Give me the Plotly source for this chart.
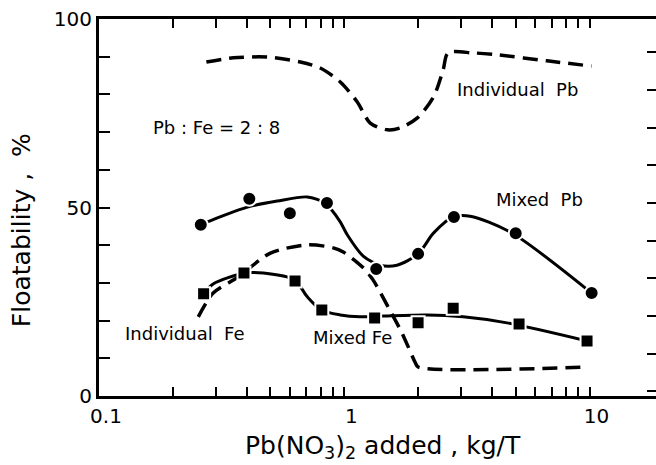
import plotly.graph_objects as go

# ---- data ----
# Mixed Pb: measured points (circles) and drawn fit curve
mixed_pb_x = [0.26, 0.41, 0.60, 0.85, 1.35, 2.0, 2.8, 5.0, 10.2]
mixed_pb_y = [45.4, 52.3, 48.5, 51.2, 33.7, 37.7, 47.5, 43.2, 27.3]
mixed_pb_curve_x = [0.262, 0.277, 0.403, 0.533, 0.707, 0.837, 0.877, 0.963, 1.03,
                    1.195, 1.40, 1.64, 2.0, 2.31, 2.78, 3.26, 4.75, 10.2]
mixed_pb_curve_y = [45.4, 46.2, 50.1, 51.7, 52.8, 51.2, 49.8, 46.2, 42.7,
                    37.1, 34.7, 34.7, 37.7, 43.2, 47.5, 47.7, 43.5, 27.3]

# Mixed Fe: measured points (squares) and drawn fit curve
mixed_fe_x = [0.267, 0.39, 0.63, 0.81, 1.33, 2.0, 2.78, 5.16, 9.77]
mixed_fe_y = [27.1, 32.6, 30.5, 22.8, 20.7, 19.4, 23.3, 19.1, 14.6]
mixed_fe_curve_x = [0.267, 0.292, 0.392, 0.468, 0.626, 0.707, 0.806, 0.963, 1.16,
                    1.44, 2.18, 3.05, 4.61, 9.77]
mixed_fe_curve_y = [27.1, 29.7, 32.6, 32.6, 30.8, 26.3, 22.8, 21.5, 21.0,
                    21.2, 21.5, 21.0, 19.4, 14.6]

# Individual Pb (dashed curve)
ind_pb_x = [0.274, 0.353, 0.486, 0.662, 0.798, 0.963, 1.13, 1.276, 1.50, 1.69,
            1.98, 2.31, 2.53, 2.65, 3.35, 4.20, 6.71, 10.2]
ind_pb_y = [88.6, 89.7, 89.9, 88.6, 87.0, 83.3, 78.0, 72.4, 70.6, 71.1,
            73.7, 79.3, 86.5, 91.0, 91.0, 90.5, 88.9, 87.5]

# Individual Fe (dashed curve)
ind_fe_x = [0.254, 0.292, 0.370, 0.500, 0.707, 0.902, 0.991, 1.195, 1.31, 1.51,
            1.72, 1.95, 2.0, 9.86]
ind_fe_y = [21.0, 27.3, 31.6, 37.9, 40.1, 39.3, 38.2, 34.0, 30.8, 23.6,
            16.7, 8.8, 7.7, 7.7]

# axis ticks
x_tick_vals = [0.1, 0.2, 0.3, 0.4, 0.5, 0.6, 0.7, 0.8, 0.9,
               1, 2, 3, 4, 5, 6, 7, 8, 9, 10]
x_tick_text = ["0.1", "", "", "", "", "", "", "", "",
               "1", "", "", "", "", "", "", "", "", "10"]
y_tick_vals = [0, 10, 20, 30, 40, 50, 60, 70, 80, 90, 100]
y_tick_text = ["0", "", "", "", "", "50", "", "", "", "", "100"]

FONT = "DejaVu Sans"
DASH = "15px,8px"

fig = go.Figure()

# dashed curves
fig.add_trace(go.Scatter(x=ind_pb_x, y=ind_pb_y, mode="lines",
                         line=dict(color="black", width=3.5, dash=DASH,
                                   shape="spline", smoothing=0.8),
                         showlegend=False, hoverinfo="skip"))
fig.add_trace(go.Scatter(x=ind_fe_x, y=ind_fe_y, mode="lines",
                         line=dict(color="black", width=3.5, dash=DASH,
                                   shape="spline", smoothing=0.8),
                         showlegend=False, hoverinfo="skip"))
# solid fit curves
fig.add_trace(go.Scatter(x=mixed_pb_curve_x, y=mixed_pb_curve_y, mode="lines",
                         line=dict(color="black", width=3,
                                   shape="spline", smoothing=0.8),
                         showlegend=False, hoverinfo="skip"))
fig.add_trace(go.Scatter(x=mixed_fe_curve_x, y=mixed_fe_curve_y, mode="lines",
                         line=dict(color="black", width=3,
                                   shape="spline", smoothing=0.8),
                         showlegend=False, hoverinfo="skip"))
# markers
fig.add_trace(go.Scatter(x=mixed_pb_x, y=mixed_pb_y, mode="markers",
                         marker=dict(symbol="circle", size=14, color="black",
                                     line=dict(color="white", width=2)),
                         showlegend=False))
fig.add_trace(go.Scatter(x=mixed_fe_x, y=mixed_fe_y, mode="markers",
                         marker=dict(symbol="square", size=13, color="black",
                                     line=dict(color="white", width=2)),
                         showlegend=False))
# right-hand tick marks (no axis line)
fig.add_trace(go.Scatter(x=[None], y=[None], yaxis="y2", showlegend=False))

label_font = dict(family=FONT, size=18, color="black")
annotations = [
    dict(text="Pb : Fe = 2 : 8", x=0.211, y=0.711),
    dict(text="Individual  Pb", x=0.752, y=0.812),
    dict(text="Mixed  Pb", x=0.791, y=0.520),
    dict(text="Individual  Fe", x=0.154, y=0.167),
    dict(text="Mixed Fe", x=0.456, y=0.154),
]
for a in annotations:
    a.update(xref="paper", yref="paper", xanchor="center", yanchor="middle",
             showarrow=False, font=label_font)
annotations.append(dict(text="Pb(NO<sub>3</sub>)<sub>2</sub> added , kg/T",
                        x=0.510, y=-0.135, xref="paper", yref="paper",
                        xanchor="center", yanchor="middle", showarrow=False,
                        font=dict(family=FONT, size=25, color="black")))
annotations.append(dict(text="Floatability ,  %", x=-0.140, y=0.440,
                        xref="paper", yref="paper", textangle=-90,
                        xanchor="center", yanchor="middle", showarrow=False,
                        font=dict(family=FONT, size=25, color="black")))

fig.update_layout(
    width=656, height=465,
    margin=dict(l=99, r=0, t=19, b=69),
    paper_bgcolor="white", plot_bgcolor="white",
    font=dict(family=FONT, color="black"),
    showlegend=False,
    annotations=annotations,
    xaxis=dict(type="log", range=[-1, 1.271],
               tickvals=x_tick_vals, ticktext=x_tick_text,
               ticks="inside", ticklen=9, tickwidth=2, tickcolor="black",
               ticklabelshift=7,
               showline=True, linewidth=3, linecolor="black", mirror="ticks",
               showgrid=False, zeroline=False,
               tickfont=dict(family=FONT, size=20, color="black")),
    yaxis=dict(range=[0, 100], tickvals=y_tick_vals, ticktext=y_tick_text,
               ticks="inside", ticklen=11, tickwidth=2, tickcolor="black",
               showline=True, linewidth=3, linecolor="black",
               showgrid=False, zeroline=False,
               tickfont=dict(family=FONT, size=20, color="black")),
    yaxis2=dict(range=[-1.2, 98.8], overlaying="y", side="right", anchor="x",
                tickvals=y_tick_vals, showticklabels=False,
                ticks="inside", ticklen=9, tickwidth=2, tickcolor="black",
                showline=False, showgrid=False, zeroline=False),
)

fig.write_html("out.html")
